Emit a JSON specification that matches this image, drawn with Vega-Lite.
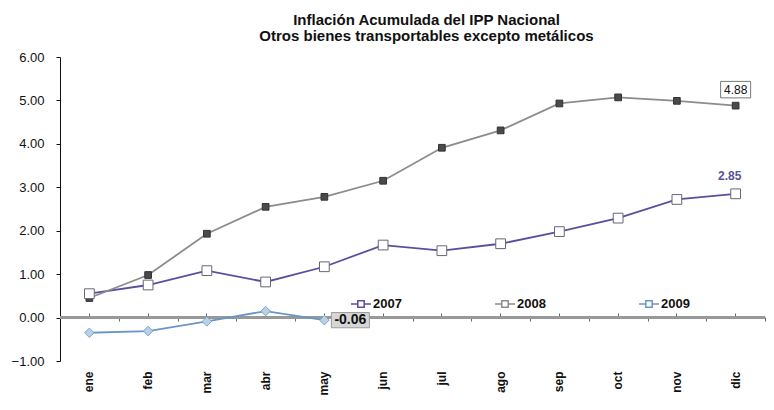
{
  "$schema": "https://vega.github.io/schema/vega-lite/v6.json",
  "autosize": {"type": "none"},
  "width": 705,
  "height": 304,
  "padding": {"left": 60, "top": 57, "right": 9, "bottom": 49},
  "background": "white",
  "config": {
    "view": {"stroke": null},
    "font": "Liberation Sans"
  },
  "title": {
    "text": ["Inflación Acumulada del IPP Nacional", "Otros bienes transportables excepto metálicos"],
    "font": "Liberation Sans",
    "fontSize": 15,
    "fontWeight": "bold",
    "color": "#111111",
    "anchor": "middle",
    "dx": 14,
    "offset": 7,
    "lineHeight": 16
  },
  "datasets": {
    "series": [
      {"mes": "ene", "year": "2007", "value": 0.55},
      {"mes": "feb", "year": "2007", "value": 0.75},
      {"mes": "mar", "year": "2007", "value": 1.08},
      {"mes": "abr", "year": "2007", "value": 0.82},
      {"mes": "may", "year": "2007", "value": 1.17},
      {"mes": "jun", "year": "2007", "value": 1.67},
      {"mes": "jul", "year": "2007", "value": 1.54},
      {"mes": "ago", "year": "2007", "value": 1.70},
      {"mes": "sep", "year": "2007", "value": 1.98},
      {"mes": "oct", "year": "2007", "value": 2.29},
      {"mes": "nov", "year": "2007", "value": 2.72},
      {"mes": "dic", "year": "2007", "value": 2.85},
      {"mes": "ene", "year": "2008", "value": 0.45},
      {"mes": "feb", "year": "2008", "value": 0.98},
      {"mes": "mar", "year": "2008", "value": 1.93},
      {"mes": "abr", "year": "2008", "value": 2.55},
      {"mes": "may", "year": "2008", "value": 2.78},
      {"mes": "jun", "year": "2008", "value": 3.15},
      {"mes": "jul", "year": "2008", "value": 3.91},
      {"mes": "ago", "year": "2008", "value": 4.31},
      {"mes": "sep", "year": "2008", "value": 4.93},
      {"mes": "oct", "year": "2008", "value": 5.07},
      {"mes": "nov", "year": "2008", "value": 4.99},
      {"mes": "dic", "year": "2008", "value": 4.88},
      {"mes": "ene", "year": "2009", "value": -0.35},
      {"mes": "feb", "year": "2009", "value": -0.31},
      {"mes": "mar", "year": "2009", "value": -0.09},
      {"mes": "abr", "year": "2009", "value": 0.15},
      {"mes": "may", "year": "2009", "value": -0.06}
    ],
    "labels": [
      {"mes": "dic", "year": "2008", "value": 4.88, "label": "4.88"},
      {"mes": "dic", "year": "2007", "value": 2.85, "label": "2.85"},
      {"mes": "may", "year": "2009", "value": -0.06, "label": "-0.06"}
    ]
  },
  "resolve": {"axis": {"x": "independent"}},
  "layer": [
    {
      "data": {"name": "series"},
      "mark": {"type": "rule", "color": "#999999", "strokeWidth": 1.5},
      "encoding": {
        "y": {
          "datum": 0, "type": "quantitative",
          "scale": {"domain": [-1, 6], "nice": false},
          "axis": {
            "title": null, "values": [-1, 0, 1, 2, 3, 4, 5, 6], "format": ".2f",
            "grid": false, "domainColor": "#111111", "tickColor": "#111111",
            "tickSize": 4, "labelPadding": 12, "labelFont": "Liberation Sans",
            "labelFontSize": 13, "labelColor": "#111111"
          }
        }
      }
    },
    {
      "data": {"name": "series"},
      "mark": {"type": "line", "strokeWidth": 1.8},
      "encoding": {
        "x": {
          "field": "mes", "type": "nominal",
          "sort": ["ene", "feb", "mar", "abr", "may", "jun", "jul", "ago", "sep", "oct", "nov", "dic"],
          "scale": {"type": "band", "paddingInner": 0, "paddingOuter": 0},
          "axis": {
            "orient": "bottom", "title": null, "domain": false, "ticks": false,
            "labelAngle": 270, "labelAlign": "right", "labelBaseline": "middle",
            "labelPadding": 10, "labelFont": "Liberation Sans", "labelFontSize": 12,
            "labelFontWeight": "bold", "labelColor": "#111111"
          }
        },
        "y": {"field": "value", "type": "quantitative"},
        "color": {
          "field": "year", "type": "nominal",
          "scale": {"domain": ["2007", "2008", "2009"], "range": ["#5a4f9e", "#8c8c8c", "#6a96c6"]},
          "legend": {
            "title": null, "orient": "none", "direction": "horizontal",
            "legendX": 290, "legendY": 236,
            "symbolType": "M-1,0H-0.32M0.32,0H1M-0.32,-0.32H0.32V0.32H-0.32Z",
            "symbolSize": 400, "symbolStrokeWidth": 1.5, "symbolFillColor": "white",
            "labelFont": "Liberation Sans", "labelFontSize": 13, "labelFontWeight": "bold",
            "labelColor": "#111111", "labelOffset": 1, "columnPadding": 90
          }
        }
      }
    },
    {
      "data": {"name": "series"},
      "transform": [{"filter": "datum.year == '2008'"}],
      "mark": {"type": "point", "shape": "square", "size": 45, "filled": true, "fill": "#4a4a4a", "stroke": "#333333", "strokeWidth": 1, "opacity": 1},
      "encoding": {
        "x": {"field": "mes", "type": "nominal", "sort": ["ene", "feb", "mar", "abr", "may", "jun", "jul", "ago", "sep", "oct", "nov", "dic"], "axis": null},
        "y": {"field": "value", "type": "quantitative"}
      }
    },
    {
      "data": {"name": "series"},
      "transform": [{"filter": "datum.year == '2007'"}],
      "mark": {"type": "point", "shape": "square", "size": 95, "filled": true, "fill": "white", "stroke": "#666677", "strokeWidth": 1, "opacity": 1},
      "encoding": {
        "x": {"field": "mes", "type": "nominal", "sort": ["ene", "feb", "mar", "abr", "may", "jun", "jul", "ago", "sep", "oct", "nov", "dic"], "axis": null},
        "y": {"field": "value", "type": "quantitative"}
      }
    },
    {
      "data": {"name": "series"},
      "transform": [{"filter": "datum.year == '2009'"}],
      "mark": {"type": "point", "shape": "diamond", "size": 90, "filled": true, "fill": "#b7d2e8", "stroke": "#7fa6cc", "strokeWidth": 1, "opacity": 1},
      "encoding": {
        "x": {"field": "mes", "type": "nominal", "sort": ["ene", "feb", "mar", "abr", "may", "jun", "jul", "ago", "sep", "oct", "nov", "dic"], "axis": null},
        "y": {"field": "value", "type": "quantitative"}
      }
    },
    {
      "data": {"name": "labels"},
      "transform": [{"filter": "datum.year == '2008'"}],
      "mark": {"type": "point", "shape": "M-1,-0.55H1V0.55H-1Z", "size": 900, "filled": true, "fill": "white", "stroke": "#777777", "strokeWidth": 1, "opacity": 1, "yOffset": -16},
      "encoding": {
        "x": {"field": "mes", "type": "nominal", "sort": ["ene", "feb", "mar", "abr", "may", "jun", "jul", "ago", "sep", "oct", "nov", "dic"], "axis": null},
        "y": {"field": "value", "type": "quantitative"}
      }
    },
    {
      "data": {"name": "labels"},
      "transform": [{"filter": "datum.year == '2009'"}],
      "mark": {"type": "point", "shape": "M-1,-0.4H1V0.4H-1Z", "size": 1444, "filled": true, "fill": "#d6d6d6", "stroke": "#9a9a9a", "strokeWidth": 1, "opacity": 1, "xOffset": 26},
      "encoding": {
        "x": {"field": "mes", "type": "nominal", "sort": ["ene", "feb", "mar", "abr", "may", "jun", "jul", "ago", "sep", "oct", "nov", "dic"], "axis": null},
        "y": {"field": "value", "type": "quantitative"}
      }
    },
    {
      "data": {"name": "labels"},
      "transform": [{"filter": "datum.year == '2008'"}],
      "mark": {"type": "text", "font": "Liberation Sans", "fontSize": 12, "color": "#111111", "dy": -16, "baseline": "middle", "align": "center"},
      "encoding": {
        "x": {"field": "mes", "type": "nominal", "sort": ["ene", "feb", "mar", "abr", "may", "jun", "jul", "ago", "sep", "oct", "nov", "dic"], "axis": null},
        "y": {"field": "value", "type": "quantitative"},
        "text": {"field": "label"}
      }
    },
    {
      "data": {"name": "labels"},
      "transform": [{"filter": "datum.year == '2007'"}],
      "mark": {"type": "text", "font": "Liberation Sans", "fontSize": 12, "fontWeight": "bold", "color": "#5a5296", "dy": -18, "dx": -6, "baseline": "middle", "align": "center"},
      "encoding": {
        "x": {"field": "mes", "type": "nominal", "sort": ["ene", "feb", "mar", "abr", "may", "jun", "jul", "ago", "sep", "oct", "nov", "dic"], "axis": null},
        "y": {"field": "value", "type": "quantitative"},
        "text": {"field": "label"}
      }
    },
    {
      "data": {"name": "labels"},
      "transform": [{"filter": "datum.year == '2009'"}],
      "mark": {"type": "text", "font": "Liberation Sans", "fontSize": 14, "fontWeight": "bold", "color": "#111111", "dx": 26, "baseline": "middle", "align": "center"},
      "encoding": {
        "x": {"field": "mes", "type": "nominal", "sort": ["ene", "feb", "mar", "abr", "may", "jun", "jul", "ago", "sep", "oct", "nov", "dic"], "axis": null},
        "y": {"field": "value", "type": "quantitative"},
        "text": {"field": "label"}
      }
    },
    {
      "data": {"name": "series"},
      "mark": {"type": "point", "opacity": 0},
      "encoding": {
        "x": {
          "field": "mes", "type": "nominal", "sort": ["ene", "feb", "mar", "abr", "may", "jun", "jul", "ago", "sep", "oct", "nov", "dic"],
          "axis": {"orient": "bottom", "offset": -44, "title": null, "labels": false, "domain": false, "ticks": true, "tickSize": -4, "tickColor": "#666666", "tickWidth": 1}
        },
        "y": {"field": "value", "type": "quantitative"}
      }
    },
    {
      "data": {"name": "series"},
      "mark": {"type": "point", "opacity": 0},
      "encoding": {
        "x": {
          "field": "mes", "type": "nominal", "sort": ["ene", "feb", "mar", "abr", "may", "jun", "jul", "ago", "sep", "oct", "nov", "dic"],
          "axis": {"orient": "bottom", "offset": -44, "title": null, "labels": false, "domain": false, "ticks": true, "tickBand": "extent", "tickSize": 4, "tickColor": "#666666", "tickWidth": 1}
        },
        "y": {"field": "value", "type": "quantitative"}
      }
    }
  ]
}
